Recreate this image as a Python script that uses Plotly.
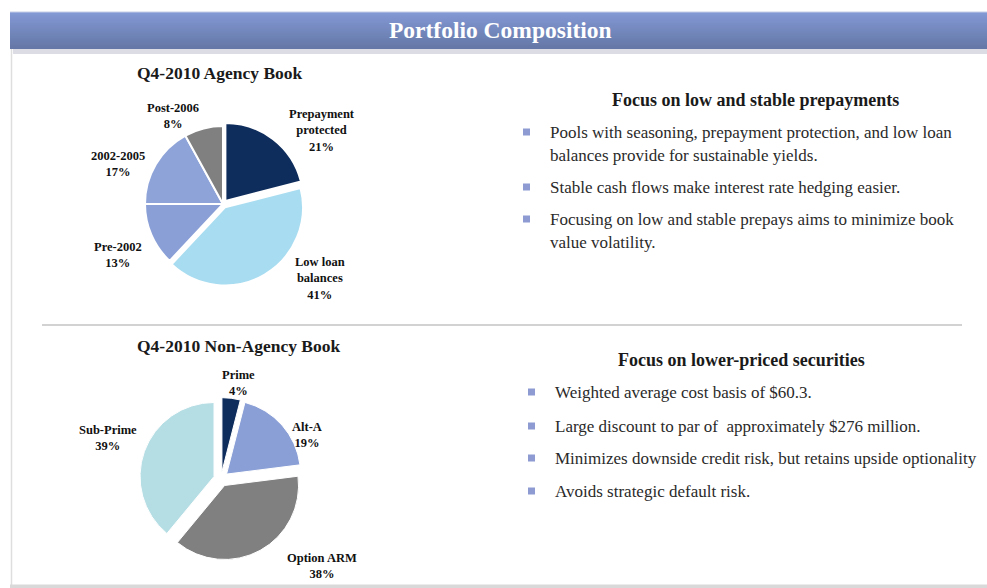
import plotly.graph_objects as go

W, H = 987, 588

# ---------------- data ----------------
title_text = "Portfolio Composition"

agency_title = "Q4-2010 Agency Book"
agency_labels = ["Prepayment<br>protected", "Low loan<br>balances", "Pre-2002", "2002-2005", "Post-2006"]
agency_values = [21, 41, 13, 17, 8]
agency_colors = ["#0f2d5c", "#a8dcf0", "#8a9fd6", "#8ea3d8", "#808080"]
agency_pull = [0.05, 0.05, 0, 0, 0]

nonagency_title = "Q4-2010 Non-Agency Book"
nonagency_labels = ["Prime", "Alt-A", "Option ARM", "Sub-Prime"]
nonagency_values = [4, 19, 38, 39]
nonagency_colors = ["#0f2d5c", "#8a9fd6", "#808080", "#b5dde4"]
nonagency_pull = [0.1, 0.1, 0.1, 0.1]

heading1 = "Focus on low and stable prepayments"
bullets1 = [
    ["Pools with seasoning, prepayment protection, and low loan",
     "balances provide for sustainable yields."],
    ["Stable cash flows make interest rate hedging easier."],
    ["Focusing on low and stable prepays aims to minimize book",
     "value volatility."],
]
heading2 = "Focus on lower-priced securities"
bullets2 = [
    ["Weighted average cost basis of $60.3."],
    ["Large discount to par of  approximately $276 million."],
    ["Minimizes downside credit risk, but retains upside optionality"],
    ["Avoids strategic default risk."],
]

# ---------------- helpers ----------------
def px(x):
    return x / W

def py(y):
    return 1 - y / H

SERIF = "Liberation Serif, Times New Roman, serif"

fig = go.Figure()

def pie_domain(cx, cy, r, maxpull):
    half = r * (1 + maxpull)
    return dict(x=[px(cx - half), px(cx + half)], y=[py(cy + half), py(cy - half)])

fig.add_trace(go.Pie(
    labels=agency_labels, values=agency_values, sort=False, direction="clockwise",
    rotation=0, marker=dict(colors=agency_colors, line=dict(color="white", width=2)),
    pull=agency_pull, textinfo="none", hoverinfo="label+percent", showlegend=False,
    domain=pie_domain(223, 204, 78, max(agency_pull)),
))
fig.add_trace(go.Pie(
    labels=nonagency_labels, values=nonagency_values, sort=False, direction="clockwise",
    rotation=0, marker=dict(colors=nonagency_colors, line=dict(color="white", width=1)),
    pull=nonagency_pull, textinfo="none", hoverinfo="label+percent", showlegend=False,
    domain=pie_domain(221, 479, 74, max(nonagency_pull)),
))

shapes = []
# title bar gradient (each strip runs to the bar bottom so no seams show)
top_c = (131, 153, 213)
bot_c = (101, 119, 166)
y0, y1 = 12, 49
n = 30
for i in range(n):
    t = i / (n - 1)
    c = tuple(int(round(top_c[k] + (bot_c[k] - top_c[k]) * t)) for k in range(3))
    ya = y0 + (y1 - y0) * i / n
    shapes.append(dict(type="rect", xref="paper", yref="paper", x0=px(10), x1=1.0,
                       y0=py(y1), y1=py(ya), fillcolor="rgb(%d,%d,%d)" % c, line=dict(width=0),
                       layer="below"))
shapes.append(dict(type="line", xref="paper", yref="paper", x0=px(10), x1=1.0, y0=py(12), y1=py(12),
                   line=dict(color="#c5cde6", width=1)))
# gray strip under bar
shapes.append(dict(type="rect", xref="paper", yref="paper", x0=px(13), x1=1.0, y0=py(54), y1=py(49),
                   fillcolor="#dcdde4", line=dict(width=0)))
# left frame
shapes.append(dict(type="line", xref="paper", yref="paper", x0=px(11.5), x1=px(11.5), y0=py(585), y1=py(49),
                   line=dict(color="#dedede", width=1.5)))
# bottom frame
shapes.append(dict(type="rect", xref="paper", yref="paper", x0=px(10), x1=1.0, y0=py(588), y1=py(584.5),
                   fillcolor="#d9d9d9", line=dict(width=0)))
# separator
shapes.append(dict(type="line", xref="paper", yref="paper", x0=px(42), x1=px(962), y0=py(325), y1=py(325),
                   line=dict(color="#d2d2d2", width=2)))

annotations = []
def text(x, y, s, size, color="#1a1a1a", bold=False, xanchor="center", family=SERIF):
    if bold:
        s = "<b>" + s + "</b>"
    annotations.append(dict(x=px(x), y=py(y), xref="paper", yref="paper", text=s, showarrow=False,
                            xanchor=xanchor, yanchor="middle", align="center",
                            font=dict(family=family, size=size, color=color)))

text(500, 30, title_text, 23.5, color="white", bold=True)
text(220, 73, agency_title, 17.5, bold=True)
text(238, 346, nonagency_title, 17.5, bold=True)

# pie labels
agency_label_pos = [(322, 131), (320, 278), (118, 255), (118, 164), (173, 116)]
for (x, y), lab, v in zip(agency_label_pos, agency_labels, agency_values):
    text(x, y, lab + "<br>" + f"{v}%", 12.5, color="#111111", bold=True)
nonagency_label_pos = [(238, 383), (307, 435), (322, 566), (108, 438)]
for (x, y), lab, v in zip(nonagency_label_pos, nonagency_labels, nonagency_values):
    text(x, y, lab + "<br>" + f"{v}%", 12.5, color="#111111", bold=True)

# right-hand text
BULLET = "#8d9bd2"
def bullet_block(hx, hy, heading, bullets, bx, tx, starts, line_gap):
    text(hx, hy, heading, 18, color="#1a1a1a", bold=True)
    for lines, ys in zip(bullets, starts):
        shapes.append(dict(type="rect", xref="paper", yref="paper", x0=px(bx), x1=px(bx + 7),
                           y0=py(ys + 3.5), y1=py(ys - 3.5), fillcolor=BULLET, line=dict(width=0)))
        for j, ln in enumerate(lines):
            text(tx, ys + j * line_gap, ln, 17, color="#2a2a2a", xanchor="left")

bullet_block(755, 100, heading1, bullets1, 523, 548, [132, 187, 219], 23)
bullet_block(741, 360, heading2, bullets2, 528, 553, [392, 426, 458, 491], 23)

fig.update_layout(
    width=W, height=H, margin=dict(l=0, r=0, t=0, b=0),
    paper_bgcolor="white", plot_bgcolor="white",
    shapes=shapes, annotations=annotations,
)

fig.write_html("out.html", config={"displayModeBar": False},
               post_script="document.body.style.margin='0';document.body.style.overflow='hidden';")
